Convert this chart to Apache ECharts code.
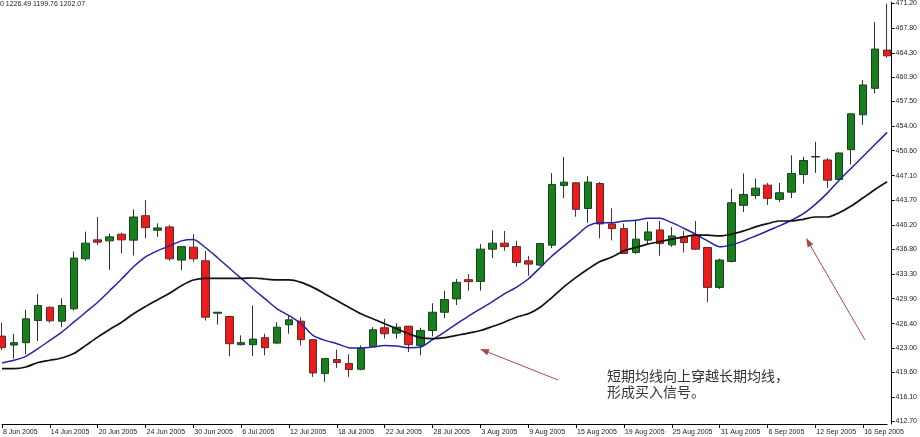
<!DOCTYPE html>
<html>
<head>
<meta charset="utf-8">
<script src="https://cdn.jsdelivr.net/npm/echarts@6/dist/echarts.min.js"></script>
<style>
html,body{margin:0;padding:0;background:#fff;}
#chart{width:920px;height:437px;}
</style>
</head>
<body>
<div id="chart"></div>
<script>
const categories = [
"8 Jun 2005","9 Jun 2005","10 Jun 2005","13 Jun 2005","14 Jun 2005","15 Jun 2005","16 Jun 2005","17 Jun 2005",
"20 Jun 2005","21 Jun 2005","22 Jun 2005","23 Jun 2005","24 Jun 2005","27 Jun 2005","28 Jun 2005","29 Jun 2005",
"30 Jun 2005","1 Jul 2005","4 Jul 2005","5 Jul 2005","6 Jul 2005","7 Jul 2005","8 Jul 2005","11 Jul 2005",
"12 Jul 2005","13 Jul 2005","14 Jul 2005","15 Jul 2005","18 Jul 2005","19 Jul 2005","20 Jul 2005","21 Jul 2005",
"22 Jul 2005","25 Jul 2005","26 Jul 2005","27 Jul 2005","28 Jul 2005","29 Jul 2005","1 Aug 2005","2 Aug 2005",
"3 Aug 2005","4 Aug 2005","5 Aug 2005","8 Aug 2005","9 Aug 2005","10 Aug 2005","11 Aug 2005","12 Aug 2005",
"15 Aug 2005","16 Aug 2005","17 Aug 2005","18 Aug 2005","19 Aug 2005","22 Aug 2005","23 Aug 2005","24 Aug 2005",
"25 Aug 2005","26 Aug 2005","29 Aug 2005","30 Aug 2005","31 Aug 2005","1 Sep 2005","2 Sep 2005","5 Sep 2005",
"6 Sep 2005","7 Sep 2005","8 Sep 2005","9 Sep 2005","12 Sep 2005","13 Sep 2005","14 Sep 2005","15 Sep 2005",
"16 Sep 2005","19 Sep 2005","20 Sep 2005"
];
const opens = [
424.65,423.40,423.73,426.84,428.69,426.74,428.47,435.47,438.12,437.98,438.91,438.08,441.50,439.47,439.93,435.29,
437.10,435.19,427.85,427.39,423.45,423.45,424.43,423.67,426.24,426.74,424.15,419.41,421.36,420.81,420.01,423.22,
425.82,425.07,426.04,423.35,425.44,427.99,429.86,432.55,432.31,436.82,437.66,437.18,435.19,434.59,437.38,445.74,
446.10,442.51,446.01,440.35,439.69,436.35,438.08,439.51,437.42,438.54,438.77,437.05,431.47,435.10,442.95,444.32,
445.78,443.79,444.80,447.27,449.72,449.30,446.57,450.75,455.62,459.33,464.68
];
const closes = [
423.03,423.73,427.07,428.93,426.79,428.93,435.57,437.66,437.80,438.54,438.12,441.32,439.83,439.79,435.47,437.18,
435.47,427.30,427.99,423.59,423.73,424.23,423.03,425.90,426.93,424.15,419.50,421.50,420.95,419.97,422.98,425.54,
424.98,425.90,423.45,425.44,427.99,429.76,432.17,432.27,436.82,437.66,437.18,434.96,434.73,437.60,445.88,446.20,
442.39,446.20,440.35,439.69,436.21,438.22,439.23,437.60,438.67,437.74,436.82,431.47,435.29,443.31,444.48,445.36,
443.93,444.71,447.41,449.22,449.78,446.47,450.28,455.76,459.80,464.82,463.88
];
const lows = [
422.70,421.50,422.10,423.95,426.52,425.90,428.23,435.19,437.38,433.94,436.21,435.93,438.35,438.54,435.19,433.90,
435.05,426.84,426.28,421.82,423.35,421.86,421.96,423.59,424.98,423.35,418.94,418.24,420.19,418.94,419.87,423.12,
424.29,424.29,422.42,421.96,424.61,427.16,429.00,431.01,431.01,435.57,436.59,434.36,433.10,434.50,436.96,443.97,
441.36,440.49,438.33,438.05,436.13,436.13,437.52,435.89,437.14,436.35,436.70,429.39,431.25,434.96,442.02,443.83,
442.99,443.41,443.97,445.99,447.49,445.36,446.47,448.66,454.23,458.63,463.61
];
const highs = [
426.52,424.98,428.33,430.56,428.79,429.94,436.49,439.27,441.32,439.00,439.13,442.39,443.69,440.44,440.17,437.25,
438.91,436.59,428.05,427.45,424.75,428.93,424.98,426.60,427.53,427.30,424.20,421.55,422.76,422.10,423.35,425.90,
427.07,426.46,426.10,425.82,429.25,431.01,432.64,433.34,437.52,439.47,439.37,437.98,435.89,437.65,447.45,449.72,
446.15,447.03,446.20,442.53,440.39,440.76,440.66,440.76,439.93,439.37,440.76,437.10,435.51,445.26,447.41,446.71,
446.10,446.10,449.96,449.75,451.84,449.58,450.37,455.85,460.50,468.62,471.17
];
const maShort = [
420.89,421.27,421.82,422.89,424.05,425.21,426.60,427.99,429.39,431.01,432.64,434.36,435.75,436.59,437.28,437.98,
438.16,437.05,435.65,434.18,432.73,431.25,429.86,428.47,427.53,426.42,424.75,424.05,423.59,423.03,422.98,423.12,
423.35,423.26,423.03,423.12,424.15,425.21,426.38,427.44,428.47,429.48,430.56,431.47,432.64,434.26,435.89,437.28,
438.67,440.07,440.53,440.53,440.76,440.86,441.14,441.14,440.53,439.75,438.91,437.98,437.14,437.42,437.98,438.67,
439.37,440.07,440.86,441.78,443.09,444.66,446.47,448.15,449.82,451.49,453.16
];
const maLong = [
420.11,420.11,420.33,420.95,421.27,421.59,422.20,423.35,424.51,425.58,426.60,427.77,428.79,429.72,430.64,431.71,
432.51,432.73,432.73,432.73,432.73,432.78,432.64,432.51,432.51,432.17,431.47,430.56,429.62,428.69,427.77,427.07,
426.38,425.68,424.98,424.43,424.29,424.43,424.75,425.07,425.44,426.00,426.60,427.30,427.77,428.69,430.08,431.57,
432.87,434.04,435.08,435.71,436.59,437.05,437.52,437.88,438.22,438.54,438.77,438.77,438.67,438.91,439.37,439.93,
440.39,440.76,440.76,441.00,441.32,441.32,441.92,442.85,444.01,445.18,446.24
];
const yTickValues = [412.70,416.10,419.60,423.00,426.40,429.90,433.30,436.80,440.20,443.70,447.10,450.60,454.00,457.50,460.90,464.30,467.80,471.20];
const headerText = "0 1226.49 1199.76 1202.07";
const noteLines = ["短期均线向上穿越长期均线，", "形成买入信号。"];

const candleData = opens.map((o, i) => [o, closes[i], lows[i], highs[i]]);

const chart = echarts.init(document.getElementById('chart'), null, {renderer: 'canvas'});
const FONT = '"Liberation Sans", Arial, sans-serif';
const arrowColor = '#a84a4a';

function arrow(x1, y1, x2, y2) {
  const ang = Math.atan2(y2 - y1, x2 - x1);
  const len = 9, half = 3.2;
  const bx = x2 - len * Math.cos(ang), by = y2 - len * Math.sin(ang);
  const px = -Math.sin(ang) * half, py = Math.cos(ang) * half;
  return [
    {type: 'line', shape: {x1: x1, y1: y1, x2: bx, y2: by}, style: {stroke: arrowColor, lineWidth: 1}, silent: true},
    {type: 'polygon', shape: {points: [[x2, y2], [bx + px, by + py], [bx - px, by - py]]}, style: {fill: arrowColor}, silent: true}
  ];
}

const option = {
  backgroundColor: '#ffffff',
  animation: false,
  grid: {left: 1, width: 888, top: 0, bottom: 13, containLabel: false},
  xAxis: {
    type: 'category',
    data: categories,
    boundaryGap: false,
    axisLine: {show: true, lineStyle: {color: '#000', width: 1}},
    axisTick: {show: true, interval: 3, length: 4, lineStyle: {color: '#000'}},
    axisLabel: {interval: 3, align: 'left', margin: 5, fontSize: 7, fontFamily: FONT, color: '#222', padding: [0, 0, 0, 1]},
    splitLine: {show: false}
  },
  yAxis: {
    type: 'value',
    position: 'right',
    offset: 4.5,
    min: 412.35,
    max: 471.4,
    scale: true,
    axisLine: {show: true, lineStyle: {color: '#000', width: 1}},
    axisTick: {show: true, length: 3, lineStyle: {color: '#000'}, customValues: yTickValues},
    axisLabel: {customValues: yTickValues, margin: 4, fontSize: 7, fontFamily: FONT, color: '#222',
      formatter: v => v.toFixed(2)},
    splitLine: {show: false}
  },
  series: [
    {
      type: 'candlestick',
      data: candleData,
      barWidth: 8,
      clip: false,
      itemStyle: {
        color: '#17801c', color0: '#ec1c1c',
        borderColor: '#1e3d1e', borderColor0: '#5e2a2a', borderWidth: 1
      }
    },
    {
      type: 'line', data: maShort, symbol: 'none', smooth: 0.25, clip: false,
      lineStyle: {color: '#2323a8', width: 1.5}
    },
    {
      type: 'line', data: maLong, symbol: 'none', smooth: 0.25, clip: false,
      lineStyle: {color: '#111111', width: 1.7}
    }
  ],
  graphic: [
    {type: 'text', left: 0, top: 1, style: {text: headerText, font: '7px ' + FONT, fill: '#222'}, silent: true},
    {type: 'text', x: 607, y: 376, style: {text: noteLines[0], font: '14px "Noto Sans CJK SC", sans-serif', fill: '#333', textVerticalAlign: 'middle'}, silent: true},
    {type: 'text', x: 607, y: 392, style: {text: noteLines[1], font: '14px "Noto Sans CJK SC", sans-serif', fill: '#333', textVerticalAlign: 'middle'}, silent: true}
  ].concat(arrow(558, 380, 480, 349)).concat(arrow(865, 340, 806, 238))
};
chart.setOption(option);
</script>
</body>
</html>
